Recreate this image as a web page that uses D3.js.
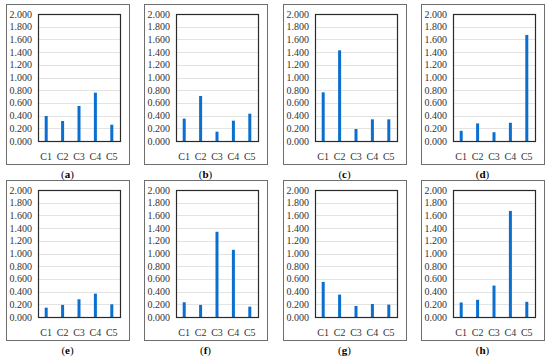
<!DOCTYPE html>
<html>
<head>
<meta charset="utf-8">
<script src="https://cdn.jsdelivr.net/npm/d3@7"></script>
<style>
  body { margin: 0; background: #fff; }
</style>
</head>
<body>
<div id="chart"></div>
<script>
// categories and panel labels
const categories = ["C1", "C2", "C3", "C4", "C5"];
const panelLabels = ["a", "b", "c", "d", "e", "f", "g", "h"];
const yTicks = [0, 0.2, 0.4, 0.6, 0.8, 1.0, 1.2, 1.4, 1.6, 1.8, 2.0];

// values
const valuesA = [0.394, 0.315, 0.551, 0.761, 0.257];
const valuesB = [0.352, 0.709, 0.147, 0.320, 0.430];
const valuesC = [0.766, 1.428, 0.189, 0.341, 0.341];
const valuesD = [0.160, 0.277, 0.138, 0.287, 1.670];
const valuesE = [0.147, 0.190, 0.279, 0.368, 0.200];
const valuesF = [0.232, 0.190, 1.342, 1.058, 0.163];
const valuesG = [0.553, 0.353, 0.174, 0.205, 0.195];
const valuesH = [0.229, 0.271, 0.495, 1.670, 0.239];

const allValues = [valuesA, valuesB, valuesC, valuesD, valuesE, valuesF, valuesG, valuesH];

const W = 550, H = 359;
const svg = d3.select("#chart").append("svg")
    .attr("width", W)
    .attr("height", H)
    .attr("font-family", "'Liberation Serif', 'Times New Roman', 'DejaVu Serif', serif");

// panel frame positions
const frameW = 123, frameH = 160;
const colX = [6, 144, 283, 421];
const rowY = [4, 180];
const plot = {left: 32, right: 114, top: 10, bottom: 137};

const formatNum = d3.format(".3f");

function drawPanel(i, values) {
    const fx = colX[i % 4], fy = rowY[Math.floor(i / 4)];
    const g = svg.append("g").attr("transform", `translate(${fx},${fy})`);

    // outer frame
    g.append("rect")
        .attr("x", 0.5).attr("y", 0.5)
        .attr("width", frameW).attr("height", frameH)
        .attr("fill", "none")
        .attr("stroke", "#6e6e6e")
        .attr("stroke-width", 1);

    const x = d3.scaleBand().domain(categories).range([plot.left, plot.right]);
    const y = d3.scaleLinear().domain([0, 2]).range([plot.bottom, plot.top]);

    // gridlines
    g.append("g")
        .selectAll("line")
        .data(yTicks)
        .enter().append("line")
        .attr("x1", plot.left).attr("x2", plot.right)
        .attr("y1", d => Math.round(y(d)) + 0.5)
        .attr("y2", d => Math.round(y(d)) + 0.5)
        .attr("stroke", "#e3e3e3")
        .attr("stroke-width", 1);

    // bars
    const barW = 3;
    g.append("g")
        .selectAll("rect")
        .data(values)
        .enter().append("rect")
        .attr("x", (d, j) => x(categories[j]) + x.bandwidth() / 2 - barW / 2)
        .attr("y", d => y(d))
        .attr("width", barW)
        .attr("height", d => y(0) - y(d))
        .attr("fill", "#0b6fcf");

    // plot area border
    g.append("rect")
        .attr("x", plot.left + 0.5).attr("y", Math.round(y(2)) + 0.5)
        .attr("width", plot.right - plot.left)
        .attr("height", Math.round(y(0)) - Math.round(y(2)))
        .attr("fill", "none")
        .attr("stroke", "#2a2a2a")
        .attr("stroke-width", 1.2);

    // y tick labels
    g.append("g")
        .selectAll("text")
        .data(yTicks)
        .enter().append("text")
        .attr("x", plot.left - 6)
        .attr("y", d => y(d) + 3.5)
        .attr("text-anchor", "end")
        .attr("font-size", "10px")
        .attr("fill", "#333")
        .text(d => formatNum(d));

    // x tick labels
    g.append("g")
        .selectAll("text")
        .data(categories)
        .enter().append("text")
        .attr("x", d => x(d) + x.bandwidth() / 2)
        .attr("y", plot.bottom + 19)
        .attr("text-anchor", "middle")
        .attr("font-size", "10px")
        .attr("fill", "#333")
        .text(d => d);

    // caption
    const cap = svg.append("text")
        .attr("x", fx + frameW / 2)
        .attr("y", fy + frameH + 14)
        .attr("text-anchor", "middle")
        .attr("font-size", "11px")
        .attr("fill", "#000");
    cap.append("tspan").text("(");
    cap.append("tspan").attr("font-weight", "bold").text(panelLabels[i]);
    cap.append("tspan").text(")");
}

allValues.forEach((v, i) => drawPanel(i, v));
</script>
</body>
</html>
